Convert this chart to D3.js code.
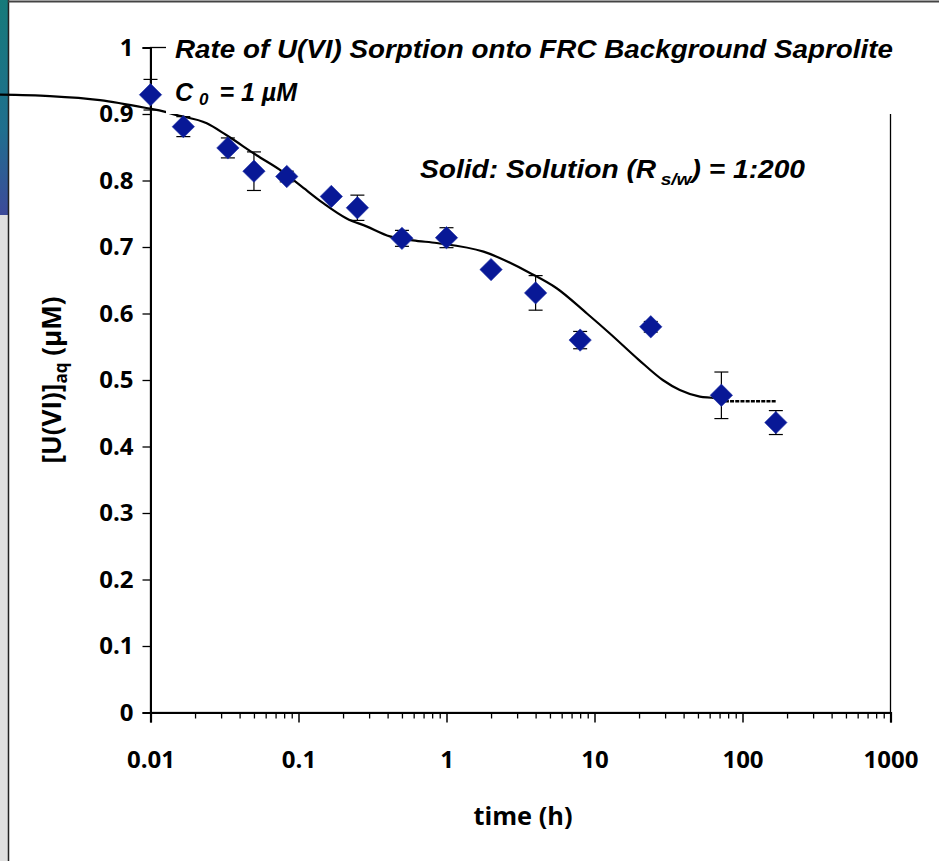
<!DOCTYPE html>
<html>
<head>
<meta charset="utf-8">
<script src="https://cdn.jsdelivr.net/npm/d3@7"></script>
<style>
  html, body { margin: 0; padding: 0; background: #fff; }
  svg { display: block; }
</style>
</head>
<body>
<svg id="chart" width="939" height="861"></svg>
<script>
// ---- data ----
const timeH = [0.01, 1/60, 2/60, 3/60, 5/60, 10/60, 15/60, 0.5, 1, 2, 4, 8, 24, 72, 168];
const uConc = [0.929, 0.881, 0.849, 0.814, 0.806, 0.776, 0.759, 0.713, 0.714, 0.666, 0.631, 0.560, 0.580, 0.477, 0.436];
const uErr  = [0.023, 0.015, 0.015, 0.029, 0.008, 0.000, 0.019, 0.012, 0.015, 0.000, 0.026, 0.013, 0.008, 0.035, 0.018];

const modelTime  = [0.00096, 0.00209, 0.00456, 0.0099, 0.0122, 0.0146, 0.024, 0.0327, 0.0521, 0.075, 0.1023, 0.1469, 0.2115, 0.288, 0.414, 0.594, 0.859, 1.78, 3.66, 5.55, 8.89, 12.7, 20.0, 28.9, 37.7, 51.5, 65.0, 76.0];
const modelValue = [0.929, 0.927, 0.921, 0.908, 0.904, 0.899, 0.886, 0.868, 0.838, 0.816, 0.793, 0.766, 0.743, 0.731, 0.716, 0.710, 0.706, 0.693, 0.661, 0.638, 0.600, 0.570, 0.530, 0.500, 0.485, 0.475, 0.4725, 0.468];
const modelTailTime  = [76.0, 168.6];
const modelTailValue = [0.468, 0.468];

const xTickValues = [0.01, 0.1, 1, 10, 100, 1000];
const xTickLabels = ["0.01", "0.1", "1", "10", "100", "1000"];
const yTickValues = [0, 0.1, 0.2, 0.3, 0.4, 0.5, 0.6, 0.7, 0.8, 0.9, 1];
const yTickLabels = ["0", "0.1", "0.2", "0.3", "0.4", "0.5", "0.6", "0.7", "0.8", "0.9", "1"];

// ---- layout ----
const svg = d3.select("#chart");
const L = 150.5, R = 890.5, T = 47.5, B = 712.5;
const x = d3.scaleLog().domain([0.01, 1000]).range([L, R]);
const y = d3.scaleLinear().domain([0, 1]).range([B, T]);

// slide decorations (left strip & top border)
const defs = svg.append("defs");
const grad = defs.append("linearGradient").attr("id", "strip").attr("x1", 0).attr("y1", 0).attr("x2", 0).attr("y2", 1);
grad.append("stop").attr("offset", "0%").attr("stop-color", "#167a7a");
grad.append("stop").attr("offset", "60%").attr("stop-color", "#1f6f8e");
grad.append("stop").attr("offset", "100%").attr("stop-color", "#3d4a9a");
svg.append("rect").attr("x", 0).attr("y", 0).attr("width", 8).attr("height", 215).attr("fill", "url(#strip)");
svg.append("rect").attr("x", 0).attr("y", 215).attr("width", 8).attr("height", 646).attr("fill", "#e0e0e0");
svg.append("line").attr("x1", 8.5).attr("x2", 8.5).attr("y1", 0).attr("y2", 861).attr("stroke", "#222").attr("stroke-width", 1.5);
svg.append("line").attr("x1", 8).attr("x2", 939).attr("y1", 1.5).attr("y2", 1.5).attr("stroke", "#444").attr("stroke-width", 2);

// plot frame
svg.append("rect").attr("x", L).attr("y", T).attr("width", R - L).attr("height", B - T)
  .attr("fill", "none").attr("stroke", "#000").attr("stroke-width", 1.3);

const nfont = "'Open Sans', sans-serif";

// x axis
const minorX = [];
for (let e = -2; e < 3; e++) for (let m = 2; m <= 9; m++) minorX.push(m * Math.pow(10, e));
svg.append("g").attr("transform", `translate(0,${B})`)
  .call(d3.axisBottom(x).tickValues(minorX).tickSize(6).tickFormat(""))
  .call(g => g.select(".domain").remove())
  .call(g => g.selectAll("line").attr("stroke-width", 1.3));
const xAxis = svg.append("g").attr("transform", `translate(0,${B})`)
  .call(d3.axisBottom(x).tickValues(xTickValues).tickSize(10).tickPadding(28)
    .tickFormat((d, i) => xTickLabels[i]));
xAxis.select(".domain").attr("stroke-width", 2.2);
xAxis.selectAll("line").attr("stroke-width", 1.5);
xAxis.selectAll("text").attr("font-family", nfont).attr("font-weight", 700)
  .attr("font-size", 24).attr("fill", "#000");

// y axis
const yAxis = svg.append("g").attr("transform", `translate(${L},0)`)
  .call(d3.axisLeft(y).tickValues(yTickValues).tickSize(8).tickPadding(9)
    .tickFormat((d, i) => yTickLabels[i]));
yAxis.select(".domain").attr("stroke-width", 2);
yAxis.selectAll("line").attr("stroke-width", 1.3);
yAxis.selectAll("text").attr("font-family", nfont).attr("font-weight", 700)
  .attr("font-size", 24).attr("fill", "#000");

// model curve
const line = d3.line().x(d => x(d[0])).y(d => y(d[1])).curve(d3.curveMonotoneX);
svg.append("path").datum(modelTime.map((t, i) => [t, modelValue[i]]))
  .attr("d", line).attr("fill", "none").attr("stroke", "#000").attr("stroke-width", 2.2);
svg.append("path").datum(modelTailTime.map((t, i) => [t, modelTailValue[i]]))
  .attr("d", line).attr("fill", "none").attr("stroke", "#000").attr("stroke-width", 2.4)
  .attr("stroke-dasharray", "4,1.2");

// error bars
const eb = svg.append("g").attr("stroke", "#000").attr("stroke-width", 1.2);
timeH.forEach((t, i) => {
  if (uErr[i] <= 0) return;
  const cx = x(t), y1 = y(uConc[i] + uErr[i]), y2 = y(uConc[i] - uErr[i]);
  eb.append("line").attr("x1", cx).attr("x2", cx).attr("y1", y1).attr("y2", y2);
  eb.append("line").attr("x1", cx - 7).attr("x2", cx + 7).attr("y1", y1).attr("y2", y1);
  eb.append("line").attr("x1", cx - 7).attr("x2", cx + 7).attr("y1", y2).attr("y2", y2);
});

// markers
const sym = d3.symbol().type(d3.symbolSquare).size(250);
svg.append("g").selectAll("path").data(timeH).join("path")
  .attr("d", sym)
  .attr("transform", (t, i) => `translate(${x(t)},${y(uConc[i])}) rotate(45)`)
  .attr("fill", "#081896").attr("stroke", "#2233a8").attr("stroke-width", 0.6);

// title text box (white, covers frame)
svg.append("rect").attr("x", 166).attr("y", 26).attr("width", 740).attr("height", 88).attr("fill", "#fff");

const tfont = "'Liberation Sans', Arial, sans-serif";
svg.append("text").attr("x", 175).attr("y", 58)
  .attr("font-family", tfont).attr("font-style", "italic").attr("font-weight", "bold")
  .attr("font-size", 25).attr("fill", "#000")
  .attr("textLength", 718).attr("lengthAdjust", "spacingAndGlyphs")
  .text("Rate of U(VI) Sorption onto FRC Background Saprolite");

const c0 = svg.append("text").attr("x", 175).attr("y", 101)
  .attr("font-family", tfont).attr("font-style", "italic").attr("font-weight", "bold")
  .attr("font-size", 25).attr("fill", "#000");
c0.append("tspan").text("C");
c0.append("tspan").attr("dx", 6).attr("dy", 4).attr("font-size", 17).text("0");
c0.append("tspan").attr("dx", 4).attr("dy", -4).text(" =  1 \u00B5M");

const sw = svg.append("text").attr("x", 420).attr("y", 178)
  .attr("font-family", tfont).attr("font-style", "italic").attr("font-weight", "bold")
  .attr("font-size", 25).attr("fill", "#000")
  .attr("textLength", 385).attr("lengthAdjust", "spacingAndGlyphs");
sw.append("tspan").text("Solid: Solution (R");
sw.append("tspan").attr("dx", 4).attr("dy", 7).attr("font-size", 17).text("s/w");
sw.append("tspan").attr("dy", -7).text(") = 1:200");

// axis titles
svg.append("text").attr("x", 523).attr("y", 825).attr("text-anchor", "middle")
  .attr("font-family", nfont).attr("font-weight", 700)
  .attr("font-size", 25).attr("fill", "#000")
  .attr("textLength", 99).attr("lengthAdjust", "spacingAndGlyphs").text("time (h)");

const yl = svg.append("text").attr("transform", "translate(61,380) rotate(-90)")
  .attr("text-anchor", "middle")
  .attr("font-family", nfont).attr("font-weight", 700)
  .attr("font-size", 26).attr("fill", "#000");
yl.append("tspan").text("[U(VI)]");
yl.append("tspan").attr("dy", 6).attr("font-size", 17).text("aq");
yl.append("tspan").attr("dy", -6).text("  (\u00B5M)");
</script>
</body>
</html>
